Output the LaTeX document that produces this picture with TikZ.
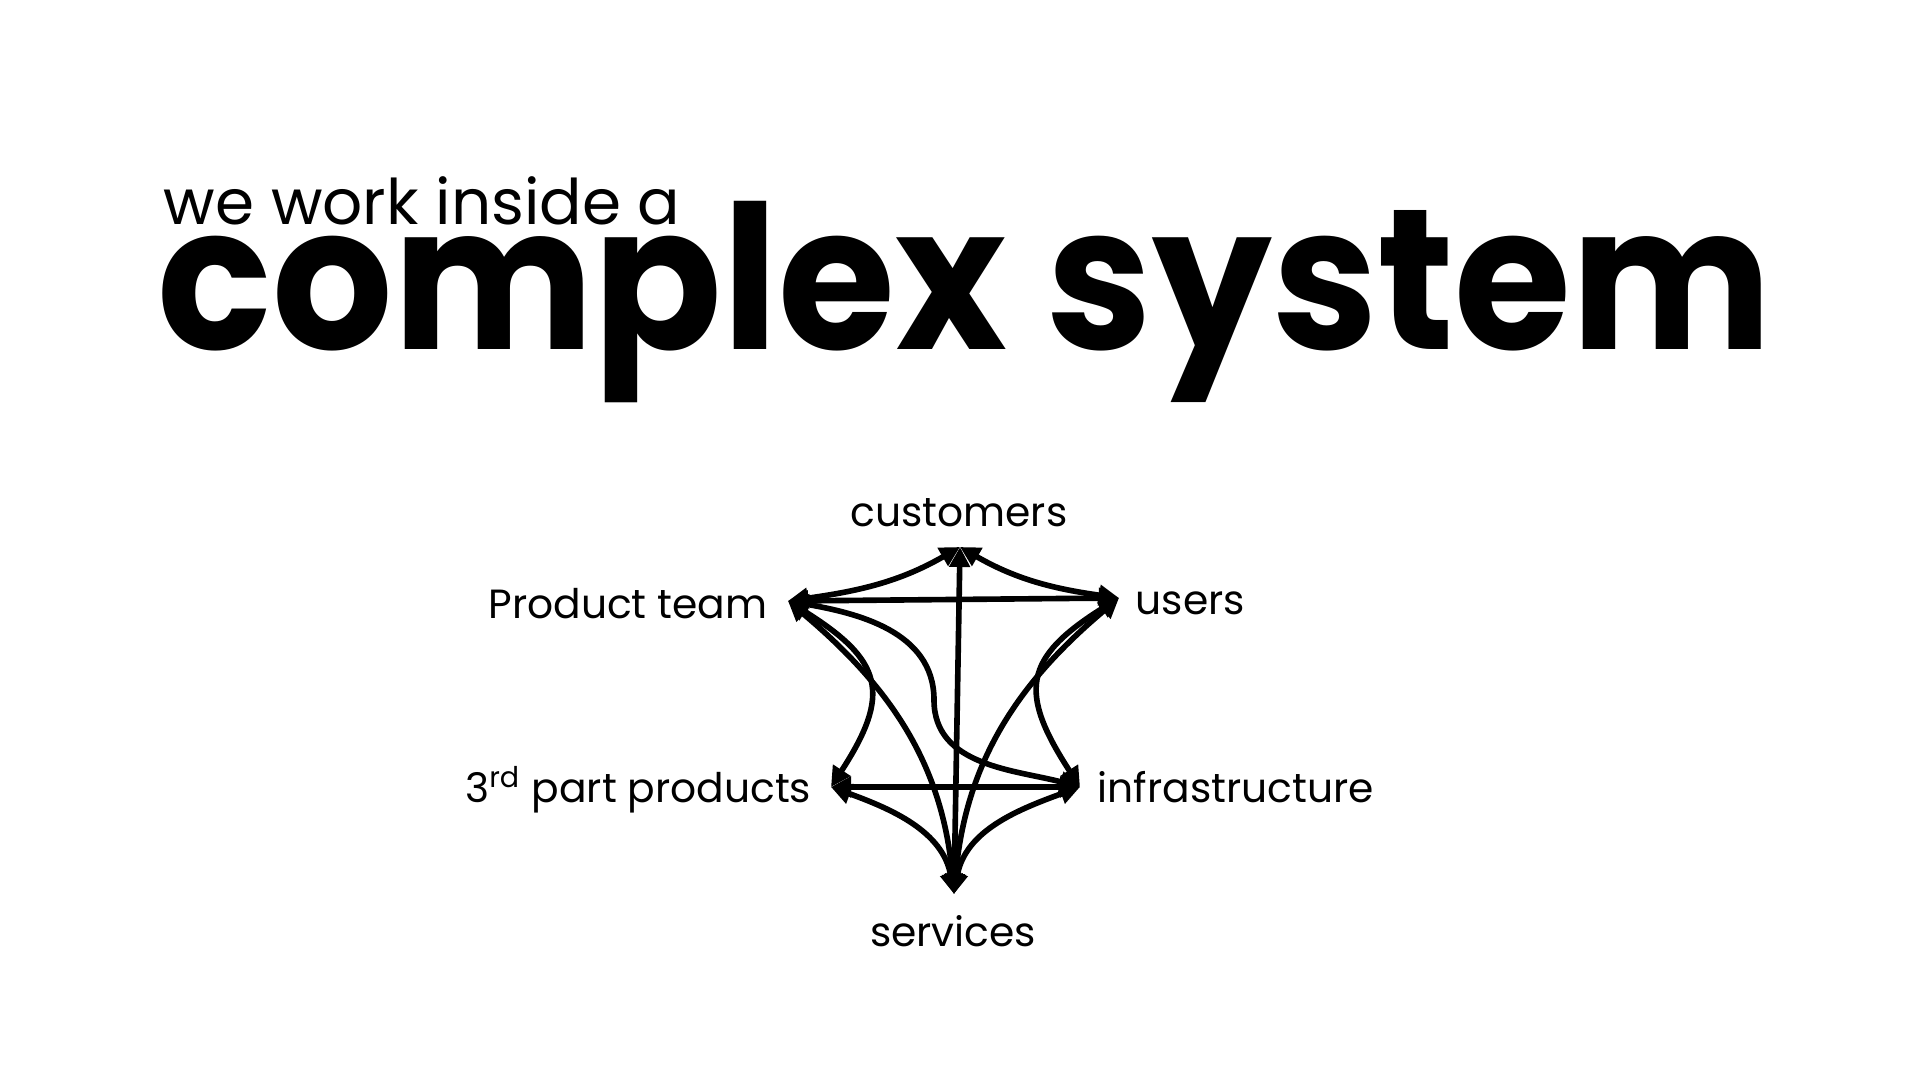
\documentclass[tikz,border=0pt]{standalone}
\usepackage{fontspec}
\setmainfont{Poppins}
\usetikzlibrary{arrows.meta}

\tikzset{
  link/.style={{Triangle[length=2mm,width=2mm]}-{Triangle[length=2mm,width=2mm]}, line width=1.6pt},
  lbl/.style={font=\fontsize{11.6}{14}\selectfont, inner sep=0pt},
}

\begin{document}
\begin{tikzpicture}
\useasboundingbox (0,0) rectangle (19.2,10.8);

% heading
\node[anchor=base west, inner sep=0pt, font=\fontsize{17.9}{20}\selectfont] (sub) at (1.63,8.55) {we work inside a};
\node[anchor=base west, inner sep=0pt, xscale=0.946, font=\fontsize{57}{60}\selectfont\bfseries] (title) at (1.57,7.30) {complex system};

% where the arrows meet
\coordinate (cust) at (9.60,5.33);
\coordinate (prod) at (7.88,4.79);
\coordinate (user) at (11.19,4.82);
\coordinate (third) at (8.31,2.93);
\coordinate (infra) at (10.80,2.93);
\coordinate (serv) at (9.54,1.86);

\node[lbl, anchor=base] (custlbl) at (9.59,5.53) {customers};
\node[lbl, anchor=base east] (prodlbl) at (7.68,4.61) {Product team};
\node[lbl, anchor=base west] (userlbl) at (11.35,4.65) {users};
\node[lbl, anchor=base east] (thirdlbl) at (8.12,2.77) {3\textsuperscript{rd} part products};
\node[lbl, anchor=base west] (infralbl) at (10.97,2.77) {infrastructure};
\node[lbl, anchor=base] (servlbl) at (9.53,1.33) {services};

% everything talks to everything
\draw[link] (prod) to[out=8,in=-150] (cust);
\draw[link] (cust) to[out=-30,in=172] (user);
\draw[link] (prod) -- (user);
\draw[link] (cust) -- (serv);
\draw[link] (prod) to[out=-32,in=57,looseness=1.5] (third);
\draw[link] (user) to[out=-148,in=123,looseness=1.5] (infra);
\draw[link] (prod) to[out=-40,in=95] (serv);
\draw[link] (user) to[out=-140,in=85] (serv);
\draw[link] (prod) to[out=-10,in=90] (9.34,3.80) to[out=-90,in=165] (infra);
\draw[link] (third) -- (infra);
\draw[link] (third) to[out=-20,in=100] (serv);
\draw[link] (infra) to[out=-160,in=80] (serv);
\end{tikzpicture}
\end{document}
